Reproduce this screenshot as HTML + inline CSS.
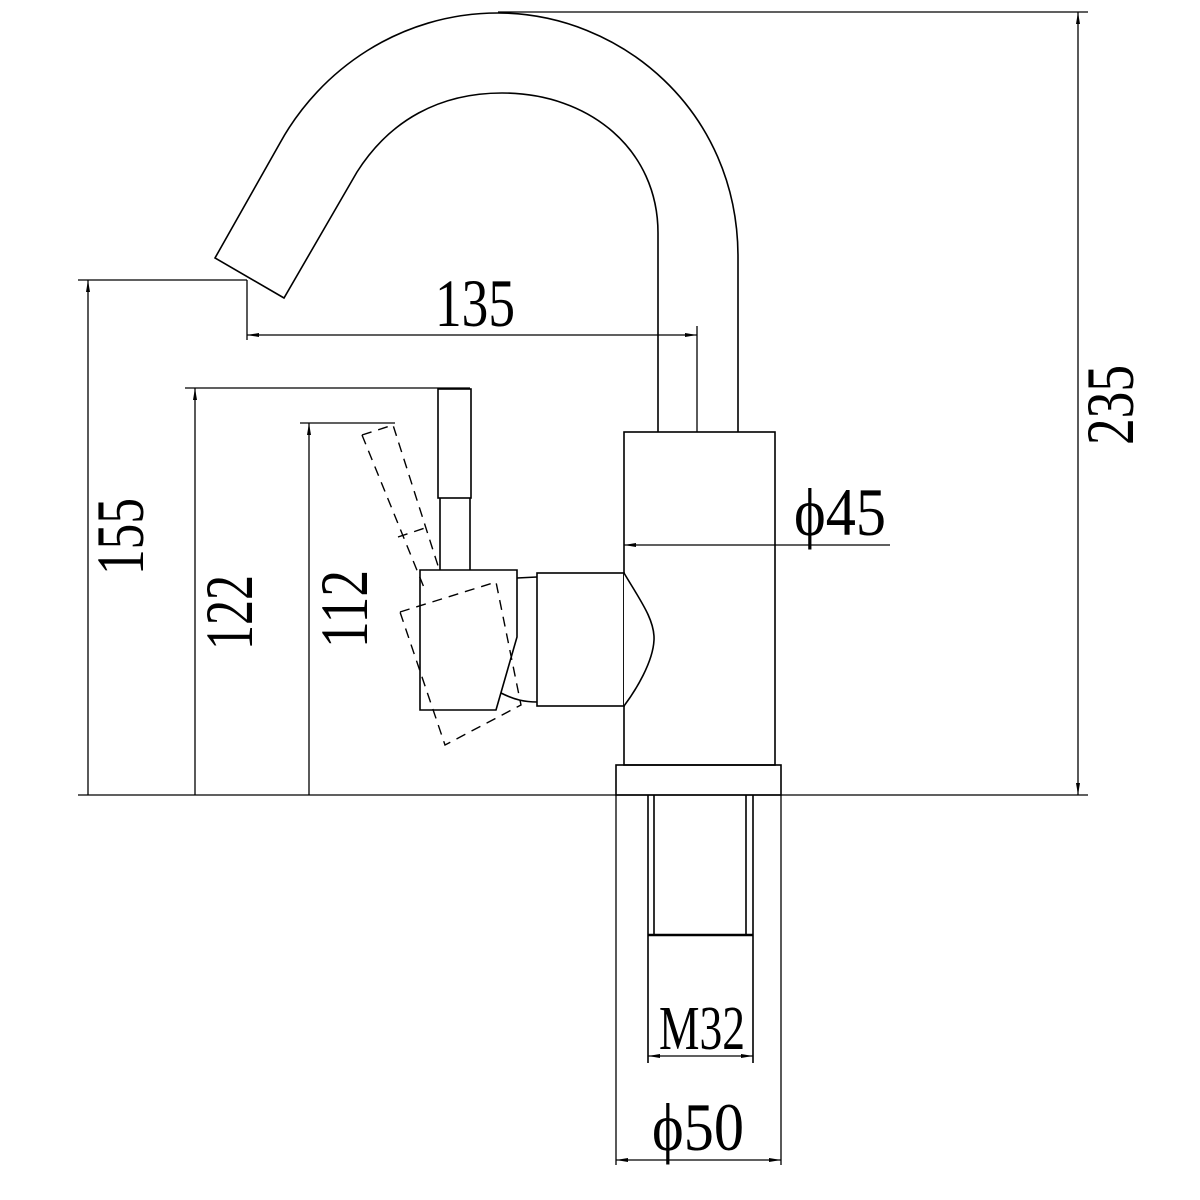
<!DOCTYPE html>
<html><head><style>html,body{margin:0;padding:0;background:#fff}svg{display:block}</style></head><body>
<svg width="1200" height="1200" viewBox="0 0 1200 1200" xmlns="http://www.w3.org/2000/svg">
<defs>
<marker id="a" viewBox="0 0 12 6" refX="12" refY="3" markerWidth="12" markerHeight="6" markerUnits="userSpaceOnUse" orient="auto-start-reverse"><path d="M0,1 L12,3 L0,5 z" fill="#000"/></marker>
</defs>
<g fill="none" stroke="#000" stroke-width="1.6">
<!-- spout -->
<path d="M738,432 L738,257 C738,110 620,13 498,13 C400,13 320,70 280,143 L215,258 L284,298 L357,172 C390,120 440,93 502,93 C590,93 658,150 658,233 L658,432"/>
<!-- body -->
<rect x="624" y="432" width="151" height="333"/>
<rect x="616" y="765" width="165" height="30"/>
<path d="M648,795 V935 M654,795 V935 M746,795 V935 M753,795 V935"/>
<path d="M648,935 H753" stroke-width="2.5"/>
<path d="M648,935 V1063 M753,935 V1063"/>
<!-- cartridge & bulge -->
<rect x="537" y="573" width="87" height="133"/>
<path d="M624,573 C640,600 655,620 654,640 C653,662 636,690 624,706" fill="#fff"/>
<!-- handle -->
<rect x="438" y="389" width="33" height="109"/>
<path d="M440,498 V570 M470,498 V570"/>
<path d="M420,570 H517 V637 L496,710 H420 Z"/>
<path d="M517,578 L537,577 M501,693 C515,700 525,702 537,702"/>
<!-- dashed rotated handle -->
<g stroke-dasharray="10,7" stroke-width="1.4">
<path d="M362,435 L393,425 L440,572"/>
<path d="M362,435 L425,590"/>
<path d="M400,612 L496,582 L521,705 L445,745 Z"/>
<path d="M398,537 L428,527"/>
</g>
</g>
<!-- dimensions -->
<g fill="none" stroke="#000" stroke-width="1.3">
<path d="M498,12 H1088 M78,795 H1088"/>
<path d="M1078,12 V795" marker-start="url(#a)" marker-end="url(#a)"/>
<path d="M247,280 V340 M78,280 H247"/>
<path d="M247,335 H697" marker-start="url(#a)" marker-end="url(#a)"/>
<path d="M697,326 V432"/>
<path d="M88,280 V795" marker-start="url(#a)"/>
<path d="M185,388 H470"/>
<path d="M195,388 V795" marker-start="url(#a)"/>
<path d="M300,423 H395"/>
<path d="M309,423 V795" marker-start="url(#a)"/>
<path d="M624,545 H890" marker-start="url(#a)"/>
<path d="M616,795 V1165 M781,795 V1165"/>
<path d="M648,1056 H753" marker-start="url(#a)" marker-end="url(#a)"/>
<path d="M616,1160 H781" marker-start="url(#a)" marker-end="url(#a)"/>
</g>
<g font-family="Liberation Serif, serif" font-size="68" fill="#000">
<text x="435" y="326" textLength="80" lengthAdjust="spacingAndGlyphs">135</text>
<text x="794" y="535" textLength="92" lengthAdjust="spacingAndGlyphs">ϕ45</text>
<text x="659" y="1049" font-size="62" textLength="86" lengthAdjust="spacingAndGlyphs">M32</text>
<text x="652" y="1150" textLength="92" lengthAdjust="spacingAndGlyphs">ϕ50</text>
<text transform="translate(1133,445) rotate(-90)" textLength="80" lengthAdjust="spacingAndGlyphs">235</text>
<text transform="translate(143,575) rotate(-90)" textLength="77" lengthAdjust="spacingAndGlyphs">155</text>
<text transform="translate(252,650) rotate(-90)" textLength="75" lengthAdjust="spacingAndGlyphs">122</text>
<text transform="translate(367,648) rotate(-90)" textLength="78" lengthAdjust="spacingAndGlyphs">112</text>
</g>
</svg>
</body></html>
